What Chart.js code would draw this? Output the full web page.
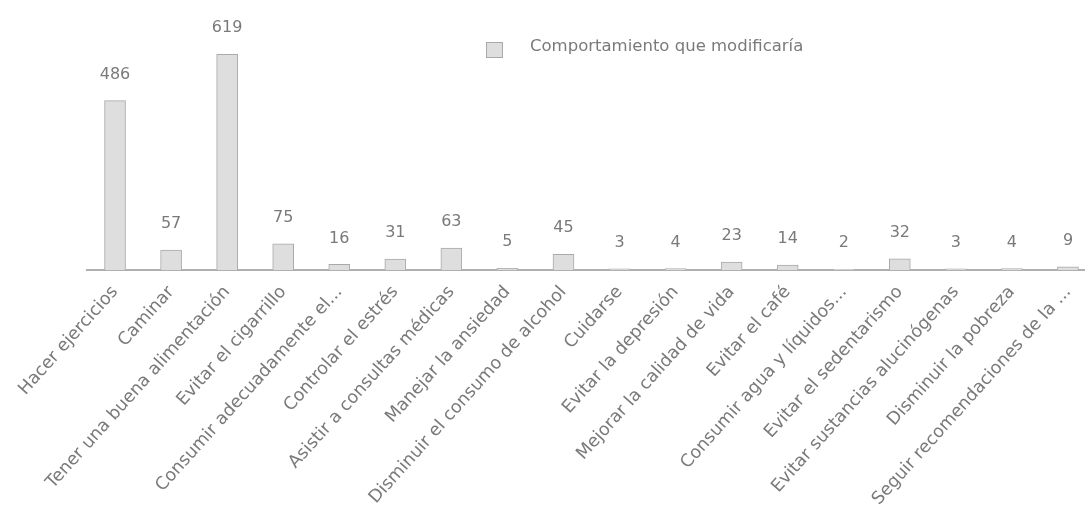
<!DOCTYPE html>
<html>
<head>
<meta charset="utf-8">
<script src="https://cdn.jsdelivr.net/npm/chart.js@4"></script>
<style>
  html, body { margin: 0; padding: 0; background: #ffffff; overflow: hidden; }
  #wrap { width: 1100px; height: 515px; }
</style>
</head>
<body>
<div id="wrap"><canvas id="c" width="1100" height="515"></canvas></div>
<script>
const categories = [
  "Hacer ejercicios",
  "Caminar",
  "Tener una buena alimentación",
  "Evitar el cigarrillo",
  "Consumir adecuadamente el...",
  "Controlar el estrés",
  "Asistir a consultas médicas",
  "Manejar la ansiedad",
  "Disminuir el consumo de alcohol",
  "Cuidarse",
  "Evitar la depresión",
  "Mejorar la calidad de vida",
  "Evitar el café",
  "Consumir agua y líquidos...",
  "Evitar el sedentarismo",
  "Evitar sustancias alucinógenas",
  "Disminuir la pobreza",
  "Seguir recomendaciones de la ..."
];
const seriesName = "Comportamiento que modificaría";
const values = [486, 57, 619, 75, 16, 31, 63, 5, 45, 3, 4, 23, 14, 2, 32, 3, 4, 9];

const FONT = "'DejaVu Sans', Lato, sans-serif";
const TEXT = "#7a7a7a";
const BAR_FILL = "#dedede";
const BAR_BORDER = "#a9a9a9";

const valueLabels = {
  id: "valueLabels",
  afterDatasetsDraw(chart) {
    const ctx = chart.ctx;
    const meta = chart.getDatasetMeta(0);
    ctx.save();
    ctx.font = "16px " + FONT;
    ctx.fillStyle = TEXT;
    ctx.textAlign = "center";
    ctx.textBaseline = "middle";
    meta.data.forEach((bar, i) => {
      ctx.fillText(String(values[i]), bar.x, bar.y - 26);
    });
    ctx.restore();
  }
};

const customLegend = {
  id: "customLegend",
  afterDraw(chart) {
    const ctx = chart.ctx;
    ctx.save();
    ctx.fillStyle = BAR_FILL;
    ctx.strokeStyle = BAR_BORDER;
    ctx.lineWidth = 1;
    ctx.fillRect(486, 42, 16, 15);
    ctx.strokeRect(486.5, 42.5, 16, 15);
    ctx.font = "16.5px " + FONT;
    ctx.fillStyle = TEXT;
    ctx.textAlign = "left";
    ctx.textBaseline = "middle";
    ctx.fillText(seriesName, 530, 47);
    ctx.restore();
  }
};

new Chart(document.getElementById("c"), {
  type: "bar",
  data: {
    labels: categories,
    datasets: [{
      label: seriesName,
      data: values,
      backgroundColor: BAR_FILL,
      borderColor: BAR_BORDER,
      borderWidth: 1,
      barThickness: 21
    }]
  },
  options: {
    responsive: false,
    animation: false,
    layout: { padding: { left: 87, right: 4, top: 26, bottom: 0 } },
    plugins: {
      legend: { display: false },
      tooltip: { enabled: false }
    },
    scales: {
      x: {
        grid: { display: false, drawTicks: false },
        border: { display: true, color: "#b0b0b0", width: 2 },
        ticks: {
          autoSkip: false,
          maxRotation: 48,
          minRotation: 48,
          padding: 12,
          color: TEXT,
          font: { family: FONT, size: 17.5 }
        },
        afterFit(scale) { scale.height = 245; }
      },
      y: {
        display: false,
        min: 0,
        max: 700
      }
    }
  },
  plugins: [valueLabels, customLegend]
});
</script>
</body>
</html>
